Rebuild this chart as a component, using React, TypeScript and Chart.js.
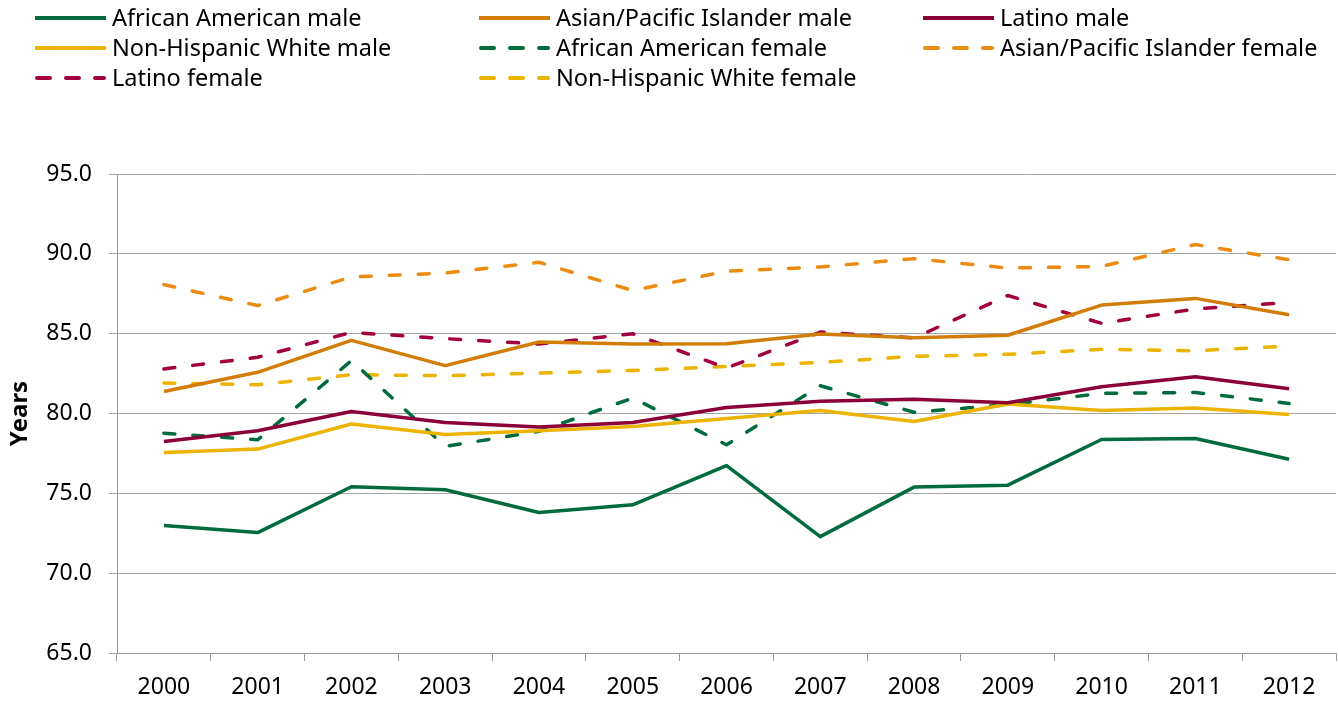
import React, { useEffect, useRef } from "react";
import { Chart, registerables } from "chart.js";

Chart.register(...registerables);

const years = ["2000", "2001", "2002", "2003", "2004", "2005", "2006", "2007", "2008", "2009", "2010", "2011", "2012"];

const africanAmericanMale = [72.98, 72.54, 75.41, 75.22, 73.8, 74.28, 76.74, 72.29, 75.39, 75.51, 78.37, 78.43, 77.13];
const asianPacificMale = [81.38, 82.58, 84.58, 83.0, 84.48, 84.35, 84.37, 84.98, 84.75, 84.9, 86.79, 87.21, 86.18];
const latinoMale = [78.25, 78.92, 80.13, 79.44, 79.15, 79.44, 80.38, 80.76, 80.9, 80.67, 81.68, 82.3, 81.55];
const nhWhiteMale = [77.56, 77.77, 79.34, 78.69, 78.92, 79.19, 79.69, 80.19, 79.5, 80.59, 80.19, 80.35, 79.93];
const africanAmericanFemale = [78.77, 78.35, 83.31, 77.94, 78.88, 80.97, 78.04, 81.74, 80.08, 80.55, 81.26, 81.32, 80.63];
const asianPacificFemale = [88.07, 86.76, 88.55, 88.8, 89.47, 87.7, 88.91, 89.18, 89.7, 89.11, 89.21, 90.58, 89.63];
const latinoFemale = [82.79, 83.52, 85.08, 84.69, 84.35, 85.0, 82.85, 85.1, 84.73, 87.39, 85.65, 86.55, 86.95];
const nhWhiteFemale = [81.91, 81.8, 82.43, 82.37, 82.53, 82.7, 82.95, 83.2, 83.58, 83.71, 84.02, 83.93, 84.23];

const yTicks = [65, 70, 75, 80, 85, 90, 95];

const GREEN = "#006b3c";
const ORANGE = "#d27d08";
const MAROON = "#8c0038";
const GOLD = "#ecb300";
const ORANGE_LIGHT = "#eb8c12";
const MAROON_LIGHT = "#a3003f";

const FONT = "'Noto Sans', 'Open Sans', sans-serif";

const seriesDefs = [
  { label: "African American male", data: africanAmericanMale, color: GREEN, dashed: false },
  { label: "Asian/Pacific Islander male", data: asianPacificMale, color: ORANGE, dashed: false },
  { label: "Latino male", data: latinoMale, color: MAROON, dashed: false },
  { label: "Non-Hispanic White male", data: nhWhiteMale, color: GOLD, dashed: false },
  { label: "African American female", data: africanAmericanFemale, color: GREEN, dashed: true },
  { label: "Asian/Pacific Islander female", data: asianPacificFemale, color: ORANGE_LIGHT, dashed: true },
  { label: "Latino female", data: latinoFemale, color: MAROON_LIGHT, dashed: true },
  { label: "Non-Hispanic White female", data: nhWhiteFemale, color: GOLD, dashed: true },
];

const legendPlugin = {
  id: "gridLegend",
  afterDraw(chart: any) {
    const ctx = chart.ctx as CanvasRenderingContext2D;
    const colX = [35, 479, 923];
    const rowY = [18, 48, 78];
    const lineLen = 71;
    ctx.save();
    chart.data.datasets.forEach((ds: any, i: number) => {
      const col = i % 3;
      const row = Math.floor(i / 3);
      const x = colX[col];
      const y = rowY[row];
      ctx.strokeStyle = ds.borderColor;
      ctx.lineWidth = 4;
      if (ds.borderDash && ds.borderDash.length) {
        ctx.lineCap = "round";
        ctx.setLineDash([13, 16]);
        ctx.beginPath();
        ctx.moveTo(x + 2, y);
        ctx.lineTo(x + lineLen - 2, y);
        ctx.stroke();
      } else {
        ctx.lineCap = "butt";
        ctx.setLineDash([]);
        ctx.beginPath();
        ctx.moveTo(x, y);
        ctx.lineTo(x + lineLen, y);
        ctx.stroke();
      }
      ctx.setLineDash([]);
      ctx.fillStyle = "#000";
      ctx.font = `23.5px ${FONT}`;
      ctx.textAlign = "left";
      ctx.textBaseline = "middle";
      ctx.fillText(ds.label, x + 77, y + 1);
    });
    ctx.restore();
  },
};

export default function App() {
  const canvasRef = useRef<HTMLCanvasElement | null>(null);

  useEffect(() => {
    document.body.style.margin = "0";
    const canvas = canvasRef.current;
    if (!canvas) return;
    const chart = new Chart(canvas, {
      type: "line",
      data: {
        labels: years,
        datasets: seriesDefs.map((s) => ({
          label: s.label,
          data: s.data,
          borderColor: s.color,
          backgroundColor: s.color,
          borderWidth: 3.5,
          borderDash: s.dashed ? [11, 18] : [],
          borderCapStyle: s.dashed ? "round" : "butt",
          borderJoinStyle: "round",
          pointRadius: 0,
          pointHoverRadius: 0,
          tension: 0,
          fill: false,
        })),
      },
      options: {
        animation: false,
        responsive: true,
        maintainAspectRatio: false,
        layout: { padding: { top: 174, right: 2, left: 0, bottom: 0 } },
        plugins: {
          legend: { display: false },
          tooltip: { enabled: false },
        },
        scales: {
          x: {
            type: "category",
            offset: true,
            grid: {
              offset: true,
              drawOnChartArea: false,
              drawTicks: true,
              tickLength: 8,
              color: "#9a9a9a",
              lineWidth: 1,
            },
            border: { display: true, color: "#9a9a9a", width: 1 },
            ticks: {
              color: "#000",
              font: { family: FONT, size: 23 },
              padding: 13,
              maxRotation: 0,
              autoSkip: false,
            },
            afterFit(scale: any) {
              scale.height = 49;
            },
          },
          y: {
            min: 65,
            max: 95,
            afterBuildTicks(scale: any) {
              scale.ticks = yTicks.map((v) => ({ value: v }));
            },
            grid: {
              color: "#a6a6a6",
              lineWidth: 1,
              drawTicks: true,
              tickLength: 8,
            },
            border: { display: true, color: "#9a9a9a", width: 1 },
            ticks: {
              color: "#000",
              font: { family: FONT, size: 23 },
              padding: 17,
              callback: (v: any) => Number(v).toFixed(1),
            },
            title: {
              display: true,
              text: "Years",
              color: "#000",
              font: { family: FONT, size: 24, weight: "bold" },
              padding: { top: 6, bottom: 0 },
            },
            afterFit(scale: any) {
              scale.width = 117;
            },
          },
        },
      },
      plugins: [legendPlugin],
    } as any);
    return () => chart.destroy();
  }, []);

  return (
    <div style={{ position: "relative", width: 1338, height: 702 }}>
      <canvas ref={canvasRef} />
    </div>
  );
}
